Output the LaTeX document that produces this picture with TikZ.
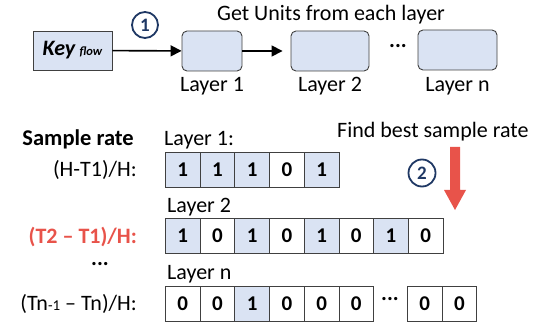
\documentclass[tikz,border=0pt]{standalone}
\usepackage{fontspec}
\setmainfont{Carlito}
\usetikzlibrary{arrows.meta}
\definecolor{cellblue}{HTML}{DAE3F3}
\definecolor{edgegray}{HTML}{404040}
\definecolor{navy}{HTML}{1F3864}
\definecolor{redx}{HTML}{E8534A}
\begin{document}
\begin{tikzpicture}[x=1pt,y=-1pt,
  font=\fontsize{22}{26}\selectfont,
  layerbox/.style={draw=edgegray, fill=cellblue, rounded corners=5pt, line width=0.9pt, minimum height=40pt, inner sep=0},
  keybox/.style={draw=edgegray, fill=cellblue, line width=0.9pt, minimum width=79pt, minimum height=39pt, inner sep=0},
  cell/.style={draw=edgegray, line width=0.9pt, minimum width=34.7pt, minimum height=35pt, inner sep=0, font=\fontsize{21}{24}\selectfont\bfseries, anchor=north west},
  on/.style={fill=cellblue},
  off/.style={fill=white},
  flowarrow/.style={-{Triangle[length=11pt,width=11pt]}, line width=1.6pt},
  stepnum/.style={circle, draw=navy, line width=1.8pt, text=navy, font=\fontsize{19}{22}\selectfont\bfseries, minimum size=26pt, inner sep=0},
  lbl/.style={inner sep=0},
  dots/.style={inner sep=0, font=\fontsize{22}{24}\selectfont\bfseries},
]
\useasboundingbox (0,0) rectangle (543,323);

% top part
\node[lbl, anchor=base] (title) at (331,21) {Get Units from each layer};
\node[keybox] (key) at (72.5,50.5) {\textbf{\textit{Key}}\,{\fontsize{12.5}{14}\selectfont\bfseries\itshape flow}};
\node[layerbox, minimum width=60pt] (L1) at (212,51) {};
\node[layerbox, minimum width=78pt] (L2) at (330,51) {};
\node[layerbox, minimum width=79pt] (Ln) at (457.5,50) {};
\node[lbl, anchor=base] (L1t) at (212,92) {Layer 1};
\node[lbl, anchor=base] (L2t) at (330,92) {Layer 2};
\node[lbl, anchor=base] (Lnt) at (457.5,92) {Layer n};
\node[dots] (topdots) at (398,46) {...};
\draw[flowarrow] (key) -- (L1);
\draw[flowarrow, shorten >=8pt] (L1) -- (L2);
\node[stepnum] (s1) at (145,25) {1};

% bottom part
\node[lbl, anchor=base east, font=\fontsize{22.5}{26}\selectfont\bfseries] (sr) at (134,146) {Sample rate};
\node[lbl, anchor=base west] (lay1) at (164,146) {Layer 1:};
\node[lbl, anchor=base east] (rate1) at (137,177) {(H-T1)/H:};
\node[lbl, anchor=base west] (lay2) at (167,212) {Layer 2};
\node[lbl, anchor=base east, text=redx, font=\fontsize{22}{26}\selectfont\bfseries] (rate2) at (137,243) {(T2 – T1)/H:};
\node[dots] (middots) at (100,264) {...};
\node[lbl, anchor=base west] (layn) at (167,279) {Layer n};
\node[lbl, anchor=base east] (raten) at (137,310) {(Tn{\fontsize{15}{17}\selectfont -1} – Tn)/H:};

\foreach \s/\v [count=\i from 0] in {on/1,on/1,on/1,off/0,on/1}
  \node[cell,\s] (ra\i) at (165+34.7*\i,152) {\v};
\foreach \s/\v [count=\i from 0] in {on/1,off/0,on/1,off/0,on/1,off/0,on/1,off/0}
  \node[cell,\s] (rb\i) at (165+34.7*\i,218) {\v};
\foreach \s/\v [count=\i from 0] in {off/0,off/0,on/1,off/0,off/0,off/0}
  \node[cell,\s] (rc\i) at (165+34.7*\i,286) {\v};
\node[cell,off] (rc6) at (407,286) {0};
\node[cell,off] (rc7) at (441.7,286) {0};
\node[dots] (rowdots) at (390,299) {...};

\node[lbl, anchor=base west] (find) at (337,138) {Find best sample rate};
\fill[redx] (450,147) -- (460,147) -- (460,190) -- (466,190) -- (455,210) -- (444,190) -- (450,190) -- cycle;
\node[stepnum, minimum size=27pt] (s2) at (422,173) {2};
\end{tikzpicture}
\end{document}
